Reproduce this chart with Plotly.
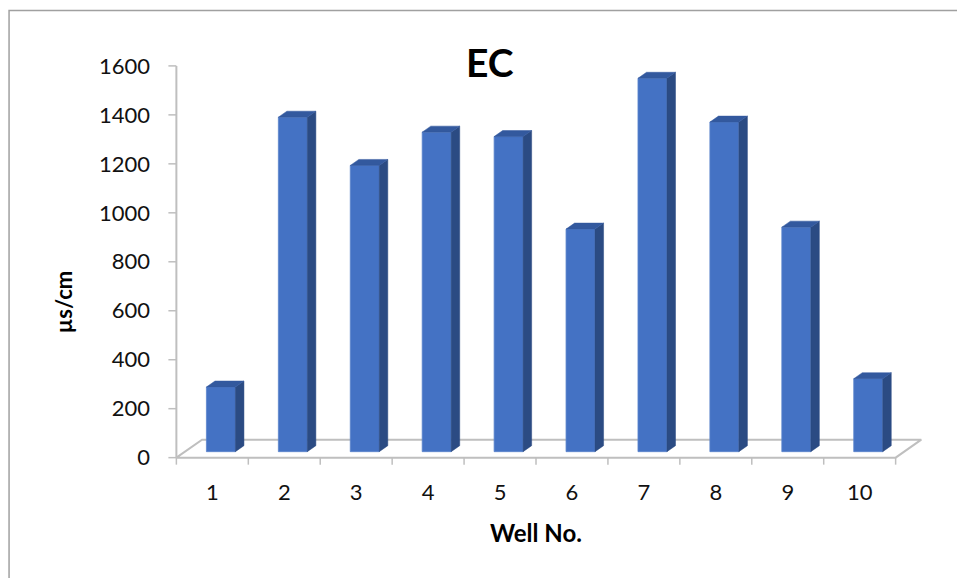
import plotly.graph_objects as go

# ---------------- data ----------------
wells = [1, 2, 3, 4, 5, 6, 7, 8, 9, 10]
ec_values = [264, 1366, 1169, 1305, 1287, 909, 1525, 1346, 917, 298]
y_ticks = [0, 200, 400, 600, 800, 1000, 1200, 1400, 1600]
title_text = "EC"
y_title = "µs/cm"
x_title = "Well No."

# ---------------- geometry / style ----------------
OFF = 0          # page body margin (removed via post_script)
W, H = 957, 578
PX_X = 72.0      # pixels per category
PX_Y = 0.245     # pixels per value unit
X0, X1 = 0.3, 10.95
Y0, Y1 = -30, 1620
ML = 176 - OFF - (0.5 - X0) * PX_X
MT = 458 - OFF - (Y1 - 0) * PX_Y
PLOT_W = (X1 - X0) * PX_X
PLOT_H = (Y1 - Y0) * PX_Y
MR = W - ML - PLOT_W
MB = H - MT - PLOT_H

def paper_x(px):
    return (px - OFF - ML) / PLOT_W

def paper_y(py):
    return (MT + PLOT_H - (py - OFF)) / PLOT_H

DX = 25.7 / PX_X   # floor depth (x)
DY = 18.0 / PX_Y   # floor depth (y)
FX, FY = DX / 3, DY / 3   # bar front-face offset
BDX, BDY = DX / 3, DY / 3 # bar depth
BW = 29.0 / PX_X

FRONT = "#4472C4"
SIDE = "#2B4B83"
TOP = "#33599E"
AXIS = "#BFBFBF"
FONT = "Lato"

fig = go.Figure()

# floor + axis lines (base subplot)
fx = [0.5, 10.5, 10.5 + DX, 0.5 + DX, 0.5]
fy = [0, 0, DY, DY, 0]
fig.add_trace(go.Scatter(x=fx, y=fy, mode="lines",
                         line=dict(color=AXIS, width=2), hoverinfo="skip", showlegend=False))
fig.add_trace(go.Scatter(x=[0.5, 0.5], y=[0, y_ticks[-1]], mode="lines",
                         line=dict(color=AXIS, width=2), hoverinfo="skip", showlegend=False))
# tick marks
tx, ty = [], []
for t in y_ticks:
    tx += [0.5 - 8 / PX_X, 0.5, None]
    ty += [t, t, None]
for i in range(len(wells) + 1):
    b = wells[0] - 0.5 + i
    tx += [b, b, None]
    ty += [0, -7 / PX_Y, None]
fig.add_trace(go.Scatter(x=tx, y=ty, mode="lines",
                         line=dict(color=AXIS, width=1.5), hoverinfo="skip", showlegend=False))

# bars (overlay subplot so they sit above floor)
bar_x = [w + FX for w in wells]
fig.add_trace(go.Bar(x=bar_x, y=ec_values, base=[FY] * len(wells), width=BW,
                     marker=dict(color=FRONT, line=dict(color="#5B84CC", width=0.8)),
                     xaxis="x2", yaxis="y2", showlegend=False))

sx, sy, tpx, tpy = [], [], [], []
for w, v in zip(wells, ec_values):
    xl = w + FX - BW / 2
    xr = xl + BW
    sx += [xr, xr + BDX, xr + BDX, xr, xr, None]
    sy += [FY, FY + BDY, FY + v + BDY, FY + v, FY, None]
    tpx += [xl, xr, xr + BDX, xl + BDX, xl, None]
    tpy += [FY + v, FY + v, FY + v + BDY, FY + v + BDY, FY + v, None]
fig.add_trace(go.Scatter(x=sx, y=sy, mode="lines", fill="toself", fillcolor=SIDE,
                         line=dict(color=SIDE, width=0.5), xaxis="x2", yaxis="y2",
                         hoverinfo="skip", showlegend=False))
fig.add_trace(go.Scatter(x=tpx, y=tpy, mode="lines", fill="toself", fillcolor=TOP,
                         line=dict(color=TOP, width=0.5), xaxis="x2", yaxis="y2",
                         hoverinfo="skip", showlegend=False))

fig.update_layout(
    width=W, height=H, autosize=False,
    margin=dict(l=ML, r=MR, t=MT, b=MB, pad=0),
    paper_bgcolor="white", plot_bgcolor="rgba(0,0,0,0)",
    font=dict(family=FONT, color="#000000"),
    bargap=0,
    xaxis=dict(range=[X0, X1], tickvals=wells, ticktext=[str(w) for w in wells],
               ticks="", showline=False, showgrid=False, zeroline=False,
               tickfont=dict(family=FONT, size=22, color="#111111"),
               ticklabelstandoff=12),
    yaxis=dict(range=[Y0, Y1], tickvals=y_ticks, ticktext=[str(t) for t in y_ticks],
               ticks="", showline=False, showgrid=False, zeroline=False,
               tickfont=dict(family=FONT, size=22, color="#111111"),
               ticklabelstandoff=11),
    xaxis2=dict(range=[X0, X1], overlaying="x", visible=False),
    yaxis2=dict(range=[Y0, Y1], overlaying="y", visible=False),
    annotations=[
        dict(text="<b>%s</b>" % title_text, x=paper_x(489.5), y=paper_y(62.5),
             xref="paper", yref="paper", xanchor="center", yanchor="middle",
             showarrow=False, font=dict(family=FONT, size=39, color="#000000")),
        dict(text="<b>%s</b>" % y_title, x=paper_x(63), y=paper_y(303),
             xref="paper", yref="paper", xanchor="center", yanchor="middle",
             textangle=-90, showarrow=False, font=dict(family=FONT, size=22, color="#000000")),
        dict(text="<b>%s</b>" % x_title, x=paper_x(536), y=paper_y(533),
             xref="paper", yref="paper", xanchor="center", yanchor="middle",
             showarrow=False, font=dict(family=FONT, size=24, color="#000000")),
    ],
    shapes=[dict(type="path", xref="paper", yref="paper",
                 path="M %f,%f L %f,%f L %f,%f" % (paper_x(8.5), paper_y(600), paper_x(8.5),
                                                   paper_y(10.5), paper_x(1000), paper_y(10.5)),
                 line=dict(color="#A0A0A0", width=1.5))],
)

fig.write_html("out.html",
               config={"displayModeBar": False, "staticPlot": True},
               post_script="document.body.style.margin='0px';document.body.style.overflow='hidden';")
